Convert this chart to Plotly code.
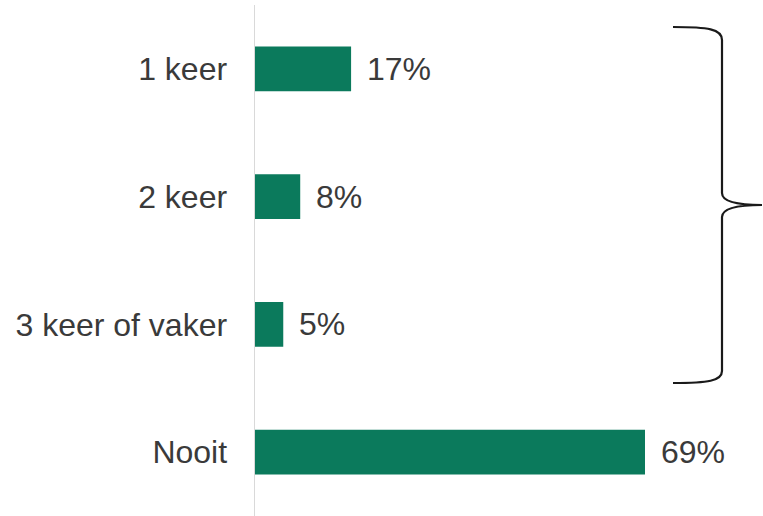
import plotly.graph_objects as go

categories = ["1 keer", "2 keer", "3 keer of vaker", "Nooit"]
values = [17, 8, 5, 69]
value_labels = ["17%", "8%", "5%", "69%"]

W, H = 763, 516
L, R_, T, B = 255, 0, 5, 0
pw, ph = W - L - R_, H - T - B
px_per_pct = 390 / 69.0
xmax = pw / px_per_pct
FS = 32

def P(x, y):
    return (x - L) / pw, (H - B - y) / ph

fig = go.Figure()
fig.add_trace(go.Bar(
    y=categories, x=values, orientation="h",
    marker=dict(color="#0b7a5c", line=dict(width=0)),
    width=0.35, hoverinfo="skip",
))

for c, v, t in zip(categories, values, value_labels):
    fig.add_annotation(x=v, y=c, text=t, showarrow=False, xanchor="left",
                       xshift=14, font=dict(size=FS, color="#3a3a3a",
                                            family="Liberation Sans, Arial, sans-serif"))

pts = [
    ("M", [(673, 27)]),
    ("C", [(708, 27), (722, 29), (722, 40)]),
    ("L", [(722, 193)]),
    ("C", [(722, 201), (735, 205), (762, 205)]),
    ("C", [(735, 205), (722, 209), (722, 217)]),
    ("L", [(722, 371)]),
    ("C", [(722, 381), (708, 383), (673, 383)]),
]
path = ""
for cmd, ps in pts:
    path += cmd + " " + " ".join("%.5f,%.5f" % P(x, y) for x, y in ps) + " "

fig.add_shape(type="path", path=path.strip(), xref="paper", yref="paper",
              line=dict(color="#1a1a1a", width=2.2))

fig.update_layout(
    width=W, height=H,
    margin=dict(l=L, r=R_, t=T, b=B),
    paper_bgcolor="white", plot_bgcolor="white",
    showlegend=False,
    font=dict(family="Liberation Sans, Arial, sans-serif", size=FS, color="#3a3a3a"),
    xaxis=dict(range=[0, xmax], visible=False, fixedrange=True),
    yaxis=dict(autorange=False, range=[3.5, -0.5], type="category",
               categoryorder="array", categoryarray=categories,
               showline=True, linecolor="#d9d9d9", linewidth=1.5,
               showgrid=False, zeroline=False, ticks="",
               ticklabelstandoff=20, fixedrange=True,
               tickfont=dict(size=FS, color="#3a3a3a")),
)

fig.write_html("out.html", config={"displayModeBar": False, "staticPlot": True},
               post_script="document.body.style.margin='0';document.body.style.overflow='hidden';")
